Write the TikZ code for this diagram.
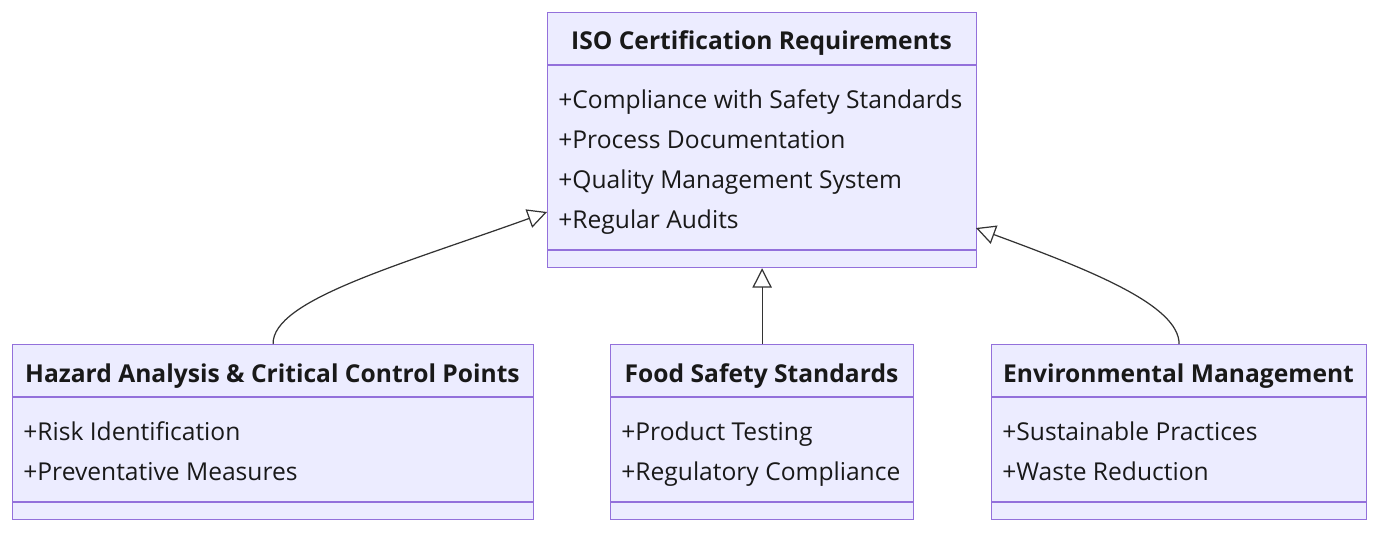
\documentclass[tikz,border=0pt]{standalone}
\usepackage{fontspec}
\setmainfont{Open Sans}
\usetikzlibrary{arrows.meta,positioning}
\definecolor{classfill}{HTML}{ECECFF}
\definecolor{classline}{HTML}{9370DB}
\definecolor{linkline}{HTML}{333333}
\tikzset{
  classbox/.style={draw=classline, fill=classfill, line width=0.7pt, anchor=north west, inner sep=0pt},
  title/.style={font=\fontsize{14}{16}\selectfont\bfseries, text=black!90, anchor=base},
  attr/.style={font=\fontsize{14}{16}\selectfont, text=black!90, anchor=base west, inner sep=0pt},
  inherit/.style={draw=linkline, line width=0.7pt, -{Triangle[open, length=11pt, width=11pt]}}
}
\begin{document}
\begin{tikzpicture}[x=0.02cm, y=-0.02cm]
    \useasboundingbox (0, 0) rectangle (1384, 534);

    % top class
    \node[classbox, minimum width=429*0.02cm, minimum height=255*0.02cm] (iso) at (547, 12) {};
    \draw[classline, line width=0.7pt] (547, 65) -- (976, 65);
    \draw[classline, line width=0.7pt] (547, 250) -- (976, 250);
    \node[title] (iso-t) at (761.5, 50) {ISO Certification Requirements};
    \node[attr] (iso-1) at (558, 108) {+Compliance with Safety Standards};
    \node[attr] (iso-2) at (558, 148) {+Process Documentation};
    \node[attr] (iso-3) at (558, 188) {+Quality Management System};
    \node[attr] (iso-4) at (558, 228) {+Regular Audits};

    % left class
    \node[classbox, minimum width=521*0.02cm, minimum height=175*0.02cm] (hac) at (12, 344) {};
    \draw[classline, line width=0.7pt] (12, 397) -- (533, 397);
    \draw[classline, line width=0.7pt] (12, 502) -- (533, 502);
    \node[title] (hac-t) at (272.5, 382) {Hazard Analysis \& Critical Control Points};
    \node[attr] (hac-1) at (23, 440) {+Risk Identification};
    \node[attr] (hac-2) at (23, 480) {+Preventative Measures};

    % middle class
    \node[classbox, minimum width=303*0.02cm, minimum height=175*0.02cm] (fss) at (610, 344) {};
    \draw[classline, line width=0.7pt] (610, 397) -- (913, 397);
    \draw[classline, line width=0.7pt] (610, 502) -- (913, 502);
    \node[title] (fss-t) at (761.5, 382) {Food Safety Standards};
    \node[attr] (fss-1) at (621, 440) {+Product Testing};
    \node[attr] (fss-2) at (621, 480) {+Regulatory Compliance};

    % right class
    \node[classbox, minimum width=375*0.02cm, minimum height=175*0.02cm] (env) at (991, 344) {};
    \draw[classline, line width=0.7pt] (991, 397) -- (1366, 397);
    \draw[classline, line width=0.7pt] (991, 502) -- (1366, 502);
    \node[title] (env-t) at (1178.5, 382) {Environmental Management};
    \node[attr] (env-1) at (1002, 440) {+Sustainable Practices};
    \node[attr] (env-2) at (1002, 480) {+Waste Reduction};

    % inheritance links
    \coordinate (iso-l) at (547, 212);
    \coordinate (iso-r) at (976, 228);
    \draw[inherit] (hac.north) .. controls (272, 300) and (400, 265) .. (iso-l);
    \draw[inherit] (fss.north) -- (iso.south);
    \draw[inherit] (env.north) .. controls (1179, 305) and (1090, 270) .. (iso-r);
\end{tikzpicture}
\end{document}
